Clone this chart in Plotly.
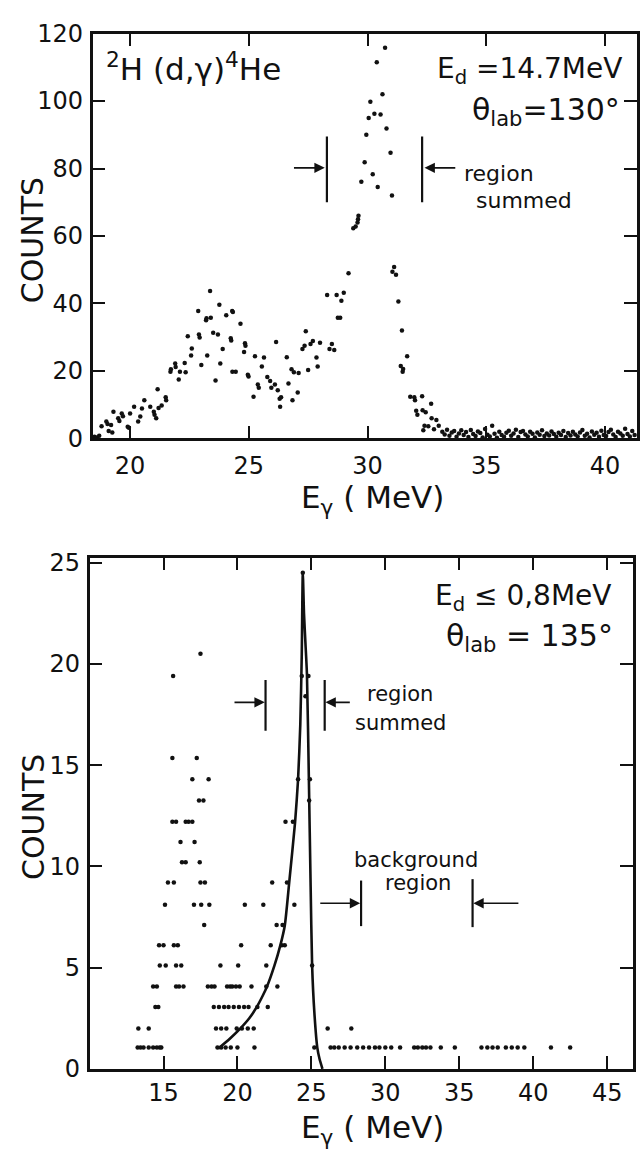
import plotly.graph_objects as go

# ---------------- top panel data: 2H(d,gamma)4He, Ed = 14.7 MeV ----------------
top_e = [18.5, 18.6, 18.7, 18.8, 19.0, 19.05, 19.1, 19.2, 19.25, 19.3, 19.5, 19.55, 19.65, 19.7,
         19.9, 19.95, 20.0, 20.17, 20.34, 20.43, 20.5, 20.6, 20.85, 21.0, 21.03, 21.1, 21.16, 21.2,
         21.33, 21.5, 21.52, 21.7, 21.72, 21.9, 21.92, 22.05, 22.1, 22.3, 22.34, 22.43, 22.57, 22.6,
         22.87, 22.9, 22.93, 23.0, 23.2, 23.22, 23.25, 23.37, 23.4, 23.5, 23.6, 23.7, 23.76, 23.8,
         23.9, 24.05, 24.24, 24.26, 24.3, 24.33, 24.31, 24.45, 24.65, 24.8, 24.84, 24.86, 24.96, 24.99,
         25.2, 25.26, 25.38, 25.42, 25.55, 25.64, 25.78, 25.9, 25.95, 26.1, 26.15, 26.22, 26.3, 26.32,
         26.36, 26.6, 26.67, 26.8, 26.9, 26.84, 27.06, 27.1, 27.26, 27.35, 27.4, 27.5, 27.6, 27.7,
         27.85, 27.9, 28.0, 28.3, 28.4, 28.5, 28.6, 28.75, 28.85, 28.7, 28.9, 29.0, 29.2, 29.4,
         29.5, 29.6, 29.62, 29.58, 29.74, 29.88, 29.95, 30.05, 30.12, 30.22, 30.29, 30.39, 30.43, 30.55,
         30.63, 30.74, 30.80, 30.97, 31.03, 31.05, 31.12, 31.2, 31.3, 31.4, 31.45, 31.48, 31.5, 31.67,
         31.8, 31.97, 32.0, 32.05, 32.1, 32.3, 32.32, 32.35, 32.4, 32.45, 32.56, 32.68, 32.7, 32.8,
         32.9, 33.0,
         33.15, 33.25, 33.35, 33.45, 33.55, 33.65, 33.75, 33.85, 33.95, 34.05, 34.15, 34.25, 34.35, 34.45,
         34.55, 34.65, 34.75, 34.85, 34.95, 35.05, 35.15, 35.25, 35.35, 35.45, 35.55, 35.65, 35.75, 35.85,
         35.95, 36.05, 36.15, 36.25, 36.35, 36.45, 36.55, 36.65, 36.75, 36.85, 36.95, 37.05, 37.15, 37.25,
         37.35, 37.45, 37.55, 37.65, 37.75, 37.85, 37.95, 38.05, 38.15, 38.25, 38.35, 38.45, 38.55, 38.65,
         38.75, 38.85, 38.95, 39.05, 39.15, 39.25, 39.35, 39.45, 39.55, 39.65, 39.75, 39.85, 39.95, 40.05,
         40.15, 40.25, 40.35, 40.45, 40.55, 40.65, 40.75, 40.85, 40.95, 41.05, 41.15, 41.25]
top_counts = [0.5, 0.3, 0.8, 3.6, 5.0, 4.3, 2.2, 4.0, 1.8, 7.9, 6.0, 5.2, 7.4, 6.6,
              3.5, 3.2, 7.4, 9.4, 5.0, 6.5, 8.9, 11.3, 9.4, 7.9, 7.0, 6.0, 14.6, 9.0,
              9.8, 12.2, 11.3, 19.8, 20.5, 22.2, 21.2, 17.5, 19.8, 22.4, 19.6, 30.3, 24.6, 26.7,
              37.8, 30.8, 29.9, 21.8, 35.0, 35.6, 24.6, 43.7, 35.8, 31.3, 17.2, 30.8, 39.6, 22.2,
              26.5, 36.5, 29.7, 29.0, 37.8, 37.5, 19.8, 19.8, 34.0, 25.6, 28.2, 27.5, 18.9, 18.4,
              12.4, 24.4, 16.0, 15.0, 21.3, 24.0, 18.2, 17.0, 15.0, 16.0, 28.6, 14.3, 11.8, 9.4,
              12.2, 24.1, 16.3, 20.5, 19.6, 11.3, 13.6, 19.4, 26.5, 27.5, 31.8, 20.3, 28.0, 28.9,
              24.0, 21.3, 28.4, 42.5, 26.5, 28.0, 26.2, 35.8, 35.8, 42.5, 40.8, 43.2, 49.0, 62.3,
              62.8, 65.0, 66.0, 64.0, 76.1, 81.9, 90.0, 95.0, 99.8, 78.3, 96.2, 111.5, 74.5, 96.0,
              102.0, 115.8, 91.9, 84.7, 72.0, 49.4, 50.8, 48.5, 40.6, 21.5, 32.0, 19.8, 20.6, 24.4,
              12.4, 12.2, 11.3, 8.2, 7.0, 12.5, 8.4, 2.4, 3.8, 7.8, 3.6, 10.3, 6.0, 2.7,
              5.5, 3.8,
              2.0, 1.2, 2.6, 0.8, 1.8, 2.2, 0.5, 1.5, 2.4, 1.0, 1.9, 0.4, 2.5, 1.3,
              0.7, 2.1, 1.6, 0.3, 2.8, 1.1, 0.6, 3.8, 1.4, 0.2, 2.0, 1.0, 0.5, 1.7,
              2.3, 0.8, 1.5, 2.6, 0.4, 1.9, 2.2, 1.2, 0.6, 2.0, 1.4, 0.3, 1.8, 1.1,
              2.4, 0.7, 1.5, 0.9, 2.1, 1.3, 0.5, 1.7, 1.0, 2.2, 0.4, 1.6, 0.9, 2.0,
              1.2, 0.6, 1.8, 2.5, 0.8, 1.4, 0.3, 2.1, 1.1, 1.7, 0.5, 2.3, 1.0, 0.7,
              1.9, 2.6, 1.2, 0.4, 2.0, 1.5, 0.8, 2.9, 1.3, 0.6, 2.2, 1.0]

# ---------------- bottom panel data: Ed <= 0.8 MeV ----------------
bot_e = [13.25, 13.45, 13.65, 14.0, 14.3, 14.55, 14.75, 14.85, 18.65, 18.9, 19.2, 19.55, 20.0, 21.15,
         25.2, 26.3, 26.55, 26.85, 27.25, 27.65, 28.1, 28.5, 28.9, 29.3, 29.6, 30.0, 30.4, 31.0,
         31.95, 32.2, 32.5, 32.75, 33.05, 33.75, 34.7, 36.5, 36.9, 37.25, 37.6, 38.15, 38.55, 38.95,
         39.4, 41.2, 42.5,
         13.3, 14.0, 18.55, 18.9, 19.25, 19.95, 20.3, 20.7, 21.1, 26.1, 27.7,
         14.45, 14.65, 18.4, 18.75, 19.1, 19.4, 19.75, 20.1, 20.45, 20.75, 21.35, 22.05,
         14.3, 14.55, 15.85, 16.05, 16.35, 18.0, 18.25, 18.45, 19.3, 19.5, 19.65, 19.9, 20.15, 20.95,
         21.95, 22.7,
         14.75, 15.15, 15.85, 16.2, 18.85, 20.05, 21.95, 25.05,
         14.7, 15.0, 15.7, 15.97, 20.25, 22.25, 23.0, 23.2,
         17.75, 22.65, 23.05,
         15.1, 17.06, 17.55, 18.1, 20.5, 21.75, 23.85,
         15.3, 15.7, 17.5, 17.8, 22.35, 23.35,
         16.25, 16.5, 17.45,
         16.15, 17.1,
         15.6, 15.85, 16.5, 16.7, 16.95, 23.25, 23.75,
         17.4, 17.7, 24.85,
         16.95, 18.05, 24.1, 24.9,
         15.6, 17.25,
         24.6,
         15.65, 24.35, 24.8,
         17.5,
         24.42]
bot_counts = [1.05] * 45 + [2.0] * 11 + [3.05] * 12 + [4.07] * 16 + [5.1] * 8 + [6.1] * 8 + \
             [7.1] * 3 + [8.1] * 7 + [9.2] * 6 + [10.2] * 3 + [11.2] * 2 + [12.2] * 7 + \
             [13.25] * 3 + [14.3] * 4 + [15.35] * 2 + [18.4] + [19.4] * 3 + [20.5] + [24.5]

# fitted line shape
fit_e = [18.7, 19.5, 20.2, 20.8, 21.3, 21.7, 22.0, 22.5, 22.9, 23.2, 23.5, 23.9, 24.1, 24.25,
         24.35, 24.42, 24.5, 24.6, 24.7, 24.83, 24.95, 25.05, 25.2, 25.4, 25.55, 25.75]
fit_counts = [1.0, 1.5, 2.0, 2.5, 3.05, 3.6, 4.07, 5.1, 6.1, 7.07, 9.2, 12.2, 14.3, 17.0,
              20.5, 24.5, 22.5, 21.0, 19.5, 14.3, 9.0, 5.1, 2.8, 1.05, 0.5, 0.0]

FONT = "DejaVu Sans"
BLACK = "#111111"

fig = go.Figure()
fig.add_trace(go.Scatter(x=top_e, y=top_counts, mode="markers", xaxis="x", yaxis="y",
                         marker=dict(size=4.5, color=BLACK), cliponaxis=False, showlegend=False))
fig.add_trace(go.Scatter(x=bot_e, y=bot_counts, mode="markers", xaxis="x2", yaxis="y2",
                         marker=dict(size=4.5, color=BLACK), cliponaxis=False, showlegend=False))
fig.add_trace(go.Scatter(x=fit_e, y=fit_counts, mode="lines", xaxis="x2", yaxis="y2",
                         line=dict(color=BLACK, width=2.6, shape="spline", smoothing=0.6),
                         showlegend=False))

axis_common = dict(showline=True, linewidth=2.6, linecolor=BLACK, mirror="ticks",
                   ticks="inside", ticklen=13, tickwidth=2, tickcolor=BLACK,
                   showgrid=False, zeroline=False,
                   tickfont=dict(family=FONT, size=24, color=BLACK))

fig.update_layout(
    width=640, height=1159,
    margin=dict(l=0, r=0, t=0, b=0),
    paper_bgcolor="white", plot_bgcolor="white",
    font=dict(family=FONT, color=BLACK),
    xaxis=dict(domain=[0.1453, 1.0], range=[18.42, 41.35],
               tickvals=[20, 25, 30, 35, 40], anchor="y", ticklabelstandoff=4, **axis_common),
    yaxis=dict(domain=[0.6247, 0.9827], range=[0, 120],
               tickvals=[0, 20, 40, 60, 80, 100, 120], anchor="x", ticklabelstandoff=2,
               **axis_common),
    xaxis2=dict(domain=[0.1406, 0.99375], range=[10, 46.75],
                tickvals=[15, 20, 25, 30, 35, 40, 45], anchor="y2", ticklabelstandoff=1,
                **axis_common),
    yaxis2=dict(domain=[0.0673, 0.5194], range=[0, 25.25],
                tickvals=[0, 5, 10, 15, 20, 25], anchor="x2", ticklabelstandoff=2,
                **axis_common),
)

ann = []
# axis titles
for yy in [1 - 232 / 1159, 1 - 823 / 1159]:
    ann.append(dict(xref="paper", yref="paper", x=33 / 640, y=yy, xanchor="center",
                    yanchor="middle", text="COUNTS", textangle=-90,
                    showarrow=False, font=dict(family=FONT, size=30, color=BLACK)))
for yy in [1 - 474 / 1159, 1 - 1120 / 1159]:
    ann.append(dict(xref="paper", yref="paper", x=374 / 640, y=yy, xanchor="center",
                    yanchor="top", text="E<sub>γ</sub> ( MeV)",
                    showarrow=False, font=dict(family=FONT, size=31, color=BLACK)))

# top panel labels
ann += [
    dict(xref="x", yref="y", x=18.9, y=110, xanchor="left", yanchor="middle",
         text="<sup>2</sup>H (d,γ)<sup>4</sup>He", showarrow=False,
         font=dict(family=FONT, size=31, color=BLACK)),
    dict(xref="x", yref="y", x=40.8, y=109, xanchor="right", yanchor="middle",
         text="E<sub>d</sub> =14.7MeV", showarrow=False,
         font=dict(family=FONT, size=28, color=BLACK)),
    dict(xref="x", yref="y", x=40.7, y=97, xanchor="right", yanchor="middle",
         text="θ<sub>lab</sub>=130°", showarrow=False,
         font=dict(family=FONT, size=30, color=BLACK)),
    dict(xref="x", yref="y", x=34.0, y=78.6, xanchor="left", yanchor="middle",
         text="region", showarrow=False, font=dict(family=FONT, size=22, color=BLACK)),
    dict(xref="x", yref="y", x=34.5, y=70.6, xanchor="left", yanchor="middle",
         text="summed", showarrow=False, font=dict(family=FONT, size=22, color=BLACK)),
]
# bottom panel labels
ann += [
    dict(xref="x2", yref="y2", x=45.4, y=23.3, xanchor="right", yanchor="middle",
         text="E<sub>d</sub> ≤ 0,8MeV", showarrow=False,
         font=dict(family=FONT, size=28, color=BLACK)),
    dict(xref="x2", yref="y2", x=45.5, y=21.3, xanchor="right", yanchor="middle",
         text="θ<sub>lab</sub> = 135°", showarrow=False,
         font=dict(family=FONT, size=30, color=BLACK)),
    dict(xref="x2", yref="y2", x=31.0, y=18.5, xanchor="center", yanchor="middle",
         text="region", showarrow=False, font=dict(family=FONT, size=21, color=BLACK)),
    dict(xref="x2", yref="y2", x=31.0, y=17.1, xanchor="center", yanchor="middle",
         text="summed", showarrow=False, font=dict(family=FONT, size=21, color=BLACK)),
    dict(xref="x2", yref="y2", x=32.1, y=10.3, xanchor="center", yanchor="middle",
         text="background", showarrow=False, font=dict(family=FONT, size=21, color=BLACK)),
    dict(xref="x2", yref="y2", x=32.2, y=9.2, xanchor="center", yanchor="middle",
         text="region", showarrow=False, font=dict(family=FONT, size=21, color=BLACK)),
]

# arrows (pointing to the region boundaries)
arrow_specs = [
    ("x", "y", 26.84, 28.2, 80.2),
    ("x", "y", 33.76, 32.4, 80.2),
    ("x2", "y2", 19.7, 21.85, 18.1),
    ("x2", "y2", 27.7, 25.95, 18.1),
    ("x2", "y2", 25.5, 28.3, 8.18),
    ("x2", "y2", 39.1, 35.95, 8.18),
]
for xr, yr, x0, x1, yv in arrow_specs:
    ann.append(dict(xref=xr, yref=yr, axref=xr, ayref=yr, x=x1, y=yv, ax=x0, ay=yv,
                    text="", showarrow=True, arrowhead=2, arrowsize=1.3, arrowwidth=1.6,
                    arrowcolor=BLACK, standoff=0, startstandoff=0))
fig.update_layout(annotations=ann)

# vertical boundary marks
bars = [
    ("x", "y", 28.29, 70, 89.5),
    ("x", "y", 32.3, 70, 89.5),
    ("x2", "y2", 21.9, 16.7, 19.2),
    ("x2", "y2", 25.9, 16.7, 19.2),
    ("x2", "y2", 28.36, 7.05, 9.3),
    ("x2", "y2", 35.9, 7.0, 9.37),
]
shapes = []
for xr, yr, xv, y0, y1 in bars:
    shapes.append(dict(type="line", xref=xr, yref=yr, x0=xv, x1=xv, y0=y0, y1=y1,
                       line=dict(color=BLACK, width=2.2)))
fig.update_layout(shapes=shapes)

fig.write_html("out.html")
